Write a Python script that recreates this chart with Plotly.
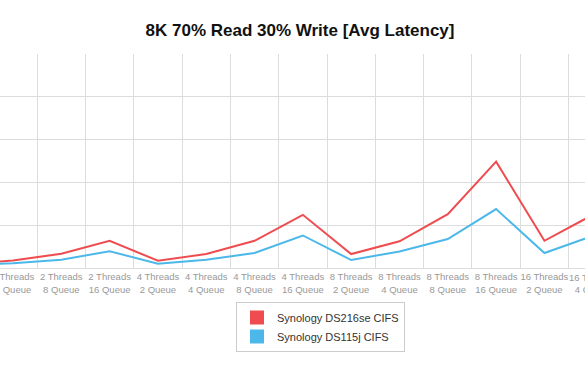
import plotly.graph_objects as go

categories = [
    "2 Threads<br>2 Queue", "2 Threads<br>4 Queue", "2 Threads<br>8 Queue", "2 Threads<br>16 Queue",
    "4 Threads<br>2 Queue", "4 Threads<br>4 Queue", "4 Threads<br>8 Queue", "4 Threads<br>16 Queue",
    "8 Threads<br>2 Queue", "8 Threads<br>4 Queue", "8 Threads<br>8 Queue", "8 Threads<br>16 Queue",
    "16 Threads<br>2 Queue", "16 Threads<br>4 Queue",
]
ds216se = [0.42, 0.88, 1.67, 3.18, 0.85, 1.63, 3.18, 6.21, 1.63, 3.12, 6.29, 12.42, 3.18, 6.21]
ds115j = [0.30, 0.56, 0.97, 1.96, 0.50, 0.97, 1.75, 3.80, 0.93, 1.93, 3.38, 6.88, 1.75, 3.76]
series_names = ["Synology DS216se CIFS", "Synology DS115j CIFS"]
colors = ["#ef4c50", "#4cb8ea"]

FONT = "Helvetica Neue, Helvetica, Arial, Liberation Sans, sans-serif"
CAT_PX = 585 / (12.84 - 0.731)

fig = go.Figure()
for name, vals, col in zip(series_names, [ds216se, ds115j], colors):
    fig.add_trace(go.Scatter(x=categories, y=vals, mode="lines", name=name,
                             line=dict(color=col, width=2), showlegend=False,
                             hoverinfo="skip"))
    fig.add_trace(go.Scatter(x=[None], y=[None], mode="markers", name=name,
                             marker=dict(symbol="square", size=14, color=col)))

# tick label of the last (partially visible) category: anchored on the previous
# category and shifted one category width to the right
fig.add_annotation(x=categories[-2], xref="x", xshift=CAT_PX, y=0, yref="paper",
                   yshift=-1.5, yanchor="top", text=categories[-1], showarrow=False,
                   font=dict(family=FONT, size=9.5, color="#999999"), align="center")

fig.update_layout(
    width=585, height=378,
    margin=dict(l=0, r=0, t=54, b=110, autoexpand=False),
    paper_bgcolor="white", plot_bgcolor="white",
    title=dict(text="<b>8K 70% Read 30% Write [Avg Latency]</b>", x=300 / 585, xanchor="center",
               y=1 - 30 / 378, yanchor="middle",
               font=dict(family=FONT, size=17, color="#111111")),
    xaxis=dict(type="category", range=[0.731, 12.84], tickson="boundaries", automargin=False,
               showgrid=True, gridcolor="#dcdcdc", gridwidth=1, tickangle=0,
               ticks="", showline=True, linecolor="#dcdcdc", linewidth=1,
               tickfont=dict(family=FONT, size=9.5, color="#999999")),
    yaxis=dict(range=[0, 25], dtick=5, showgrid=True, gridcolor="#dcdcdc", gridwidth=1,
               automargin=False, showticklabels=False, zeroline=False,
               showline=True, mirror=True, linecolor="#dcdcdc", linewidth=1),
    legend=dict(x=236 / 585, xanchor="left", y=-34 / 214, yanchor="top",
                bordercolor="#cccccc", borderwidth=1,
                font=dict(family=FONT, size=11, color="#333333"),
                itemwidth=30, tracegroupgap=0),
    showlegend=True,
)

fig.write_html("out.html", config={"displayModeBar": False},
               post_script="document.body.style.margin='0';document.body.style.overflow='hidden';")
